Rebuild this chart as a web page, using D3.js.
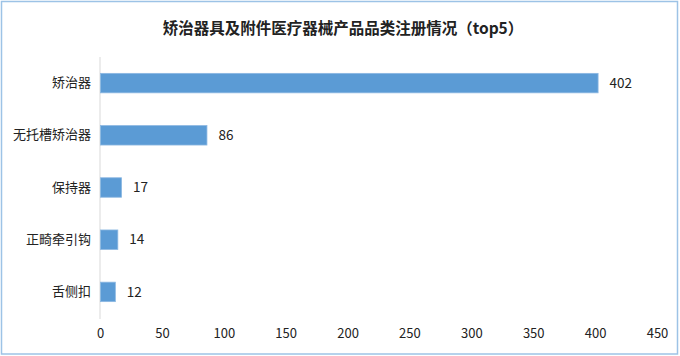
<!DOCTYPE html>
<html>
<head>
<meta charset="utf-8">
<script src="https://cdn.jsdelivr.net/npm/d3@7/dist/d3.min.js"></script>
<style>
  html, body { margin: 0; padding: 0; background: #fff; }
  svg { display: block; font-family: "Noto Sans CJK SC", "Noto Sans", sans-serif; }
</style>
</head>
<body>
<svg id="chart" width="680" height="356"></svg>
<script>
const title = "矫治器具及附件医疗器械产品品类注册情况（top5）";
const categories = ["矫治器", "无托槽矫治器", "保持器", "正畸牵引钩", "舌侧扣"];
const values = [402, 86, 17, 14, 12];
const xTicks = [0, 50, 100, 150, 200, 250, 300, 350, 400, 450];

const W = 680, H = 356;
const margin = { left: 100, right: 23, top: 57, bottom: 38 };
const svg = d3.select("#chart");

// outer border
svg.append("rect")
  .attr("x", 1.5).attr("y", 1.5)
  .attr("width", W - 4).attr("height", H - 3.5)
  .attr("fill", "#fff")
  .attr("stroke", "#9dc3e6")
  .attr("stroke-width", 1.5);

svg.append("text")
  .attr("x", 343).attr("y", 33.5)
  .attr("text-anchor", "middle")
  .attr("font-size", 15.5)
  .attr("font-weight", "bold")
  .attr("fill", "#222")
  .text(title);

const x = d3.scaleLinear().domain([0, 450]).range([100, 657]);
const y = d3.scaleBand().domain(categories).range([57, 318]).paddingInner(0.627).paddingOuter(0.3135);

// vertical axis line
svg.append("line")
  .attr("x1", x(0)).attr("x2", x(0))
  .attr("y1", 57).attr("y2", 319)
  .attr("stroke", "#d9d9d9").attr("stroke-width", 1);

// bars
svg.append("g").selectAll("rect")
  .data(categories)
  .join("rect")
  .attr("x", x(0) + 0.5)
  .attr("y", d => y(d))
  .attr("width", (d, i) => x(values[i]) - x(0))
  .attr("height", y.bandwidth())
  .attr("fill", "#5b9bd5")
  .attr("stroke", "#8cb8e2")
  .attr("stroke-width", 0.8);

// value labels
svg.append("g").selectAll("text")
  .data(categories)
  .join("text")
  .attr("x", (d, i) => x(values[i]) + 12)
  .attr("y", d => y(d) + y.bandwidth() / 2)
  .attr("dy", "0.35em")
  .attr("font-size", 13.5)
  .attr("fill", "#222")
  .text((d, i) => values[i]);

// category labels (y axis)
const yAxis = d3.axisLeft(y).tickSize(0).tickPadding(9);
const gy = svg.append("g").attr("transform", `translate(${x(0)},0)`).call(yAxis);
gy.select(".domain").remove();
gy.selectAll("text").attr("font-size", 13).attr("fill", "#222").attr("font-family", "\"Noto Sans CJK SC\", sans-serif");

// x axis tick labels
const xAxis = d3.axisBottom(x).tickValues(xTicks).tickSize(0).tickPadding(0);
const gx = svg.append("g").attr("transform", `translate(0,${329})`).call(xAxis);
gx.select(".domain").remove();
gx.selectAll("text").attr("font-size", 13).attr("fill", "#222").attr("dy", "0.71em").attr("font-family", "\"Noto Sans CJK SC\", sans-serif");
</script>
</body>
</html>
